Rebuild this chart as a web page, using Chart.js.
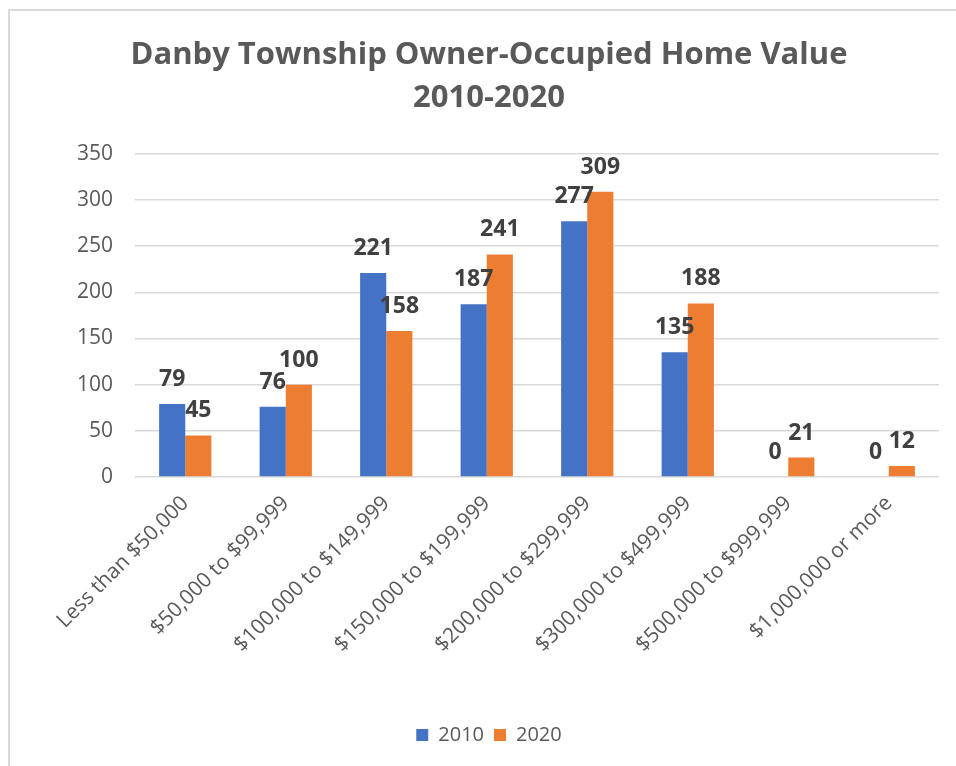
<!DOCTYPE html>
<html>
<head>
<meta charset="utf-8">
<script src="https://cdn.jsdelivr.net/npm/chart.js@4"></script>
<style>
  html, body { margin: 0; padding: 0; background: #fff; overflow: hidden; }
  #frame { position: absolute; left: 8px; top: 9px; width: 1200px; height: 1200px; border: 2px solid #d9d9d9; }
  #wrap { position: absolute; left: 0; top: 0; width: 956px; height: 766px; }
</style>
</head>
<body>
<div id="frame"></div>
<div id="wrap"><canvas id="homeChart" width="956" height="766"></canvas></div>
<script>
const categories = ['Less than $50,000', '$50,000 to $99,999', '$100,000 to $149,999', '$150,000 to $199,999',
  '$200,000 to $299,999', '$300,000 to $499,999', '$500,000 to $999,999', '$1,000,000 or more'];
const values2010 = [79, 76, 221, 187, 277, 135, 0, 0];
const values2020 = [45, 100, 158, 241, 309, 188, 21, 12];
const seriesNames = ['2010', '2020'];
const yTicks = [0, 50, 100, 150, 200, 250, 300, 350];

const FONT = '"Open Sans", sans-serif';
const GREY = '#595959';

// draws the value above each bar
const valueLabels = {
  id: 'valueLabels',
  afterDatasetsDraw(chart) {
    const ctx = chart.ctx;
    ctx.save();
    ctx.font = 'bold 23px ' + FONT;
    ctx.fillStyle = '#404040';
    ctx.textAlign = 'center';
    ctx.textBaseline = 'alphabetic';
    chart.data.datasets.forEach((ds, i) => {
      chart.getDatasetMeta(i).data.forEach((bar, j) => {
        ctx.fillText(ds.data[j], bar.x, bar.y - 18);
      });
    });
    ctx.restore();
  }
};

new Chart(document.getElementById('homeChart').getContext('2d'), {
  type: 'bar',
  data: {
    labels: categories,
    datasets: [
      { label: seriesNames[0], data: values2010, backgroundColor: '#4472C4', categoryPercentage: 0.52, barPercentage: 1 },
      { label: seriesNames[1], data: values2020, backgroundColor: '#ED7D31', categoryPercentage: 0.52, barPercentage: 1 }
    ]
  },
  options: {
    responsive: false,
    animation: false,
    layout: { padding: { left: 39, right: 17, top: 0, bottom: 11 } },
    plugins: {
      title: {
        display: true,
        text: ['Danby Township Owner-Occupied Home Value', '2010-2020'],
        color: GREY,
        font: { family: FONT, size: 31, weight: 'bold', lineHeight: 1.4 },
        padding: { top: 33, bottom: 34 }
      },
      legend: {
        position: 'bottom',
        labels: { color: GREY, font: { family: FONT, size: 20 }, boxWidth: 12, boxHeight: 12, padding: 10 }
      },
      tooltip: { enabled: false }
    },
    scales: {
      x: {
        grid: { display: false, drawTicks: false },
        border: { display: false },
        ticks: { color: GREY, font: { family: FONT, size: 21 }, minRotation: 45, maxRotation: 45, padding: 14 },
        afterFit(scale) { scale.height = 238; }
      },
      y: {
        min: 0,
        max: 350,
        afterBuildTicks(scale) { scale.ticks = yTicks.map(v => ({ value: v })); },
        grid: { color: '#d9d9d9', lineWidth: 1.5, drawTicks: false },
        border: { display: false },
        ticks: { color: GREY, font: { family: FONT, size: 21 }, padding: 22 },
        afterFit(scale) { scale.width = 96; }
      }
    }
  },
  plugins: [valueLabels]
});
</script>
</body>
</html>
